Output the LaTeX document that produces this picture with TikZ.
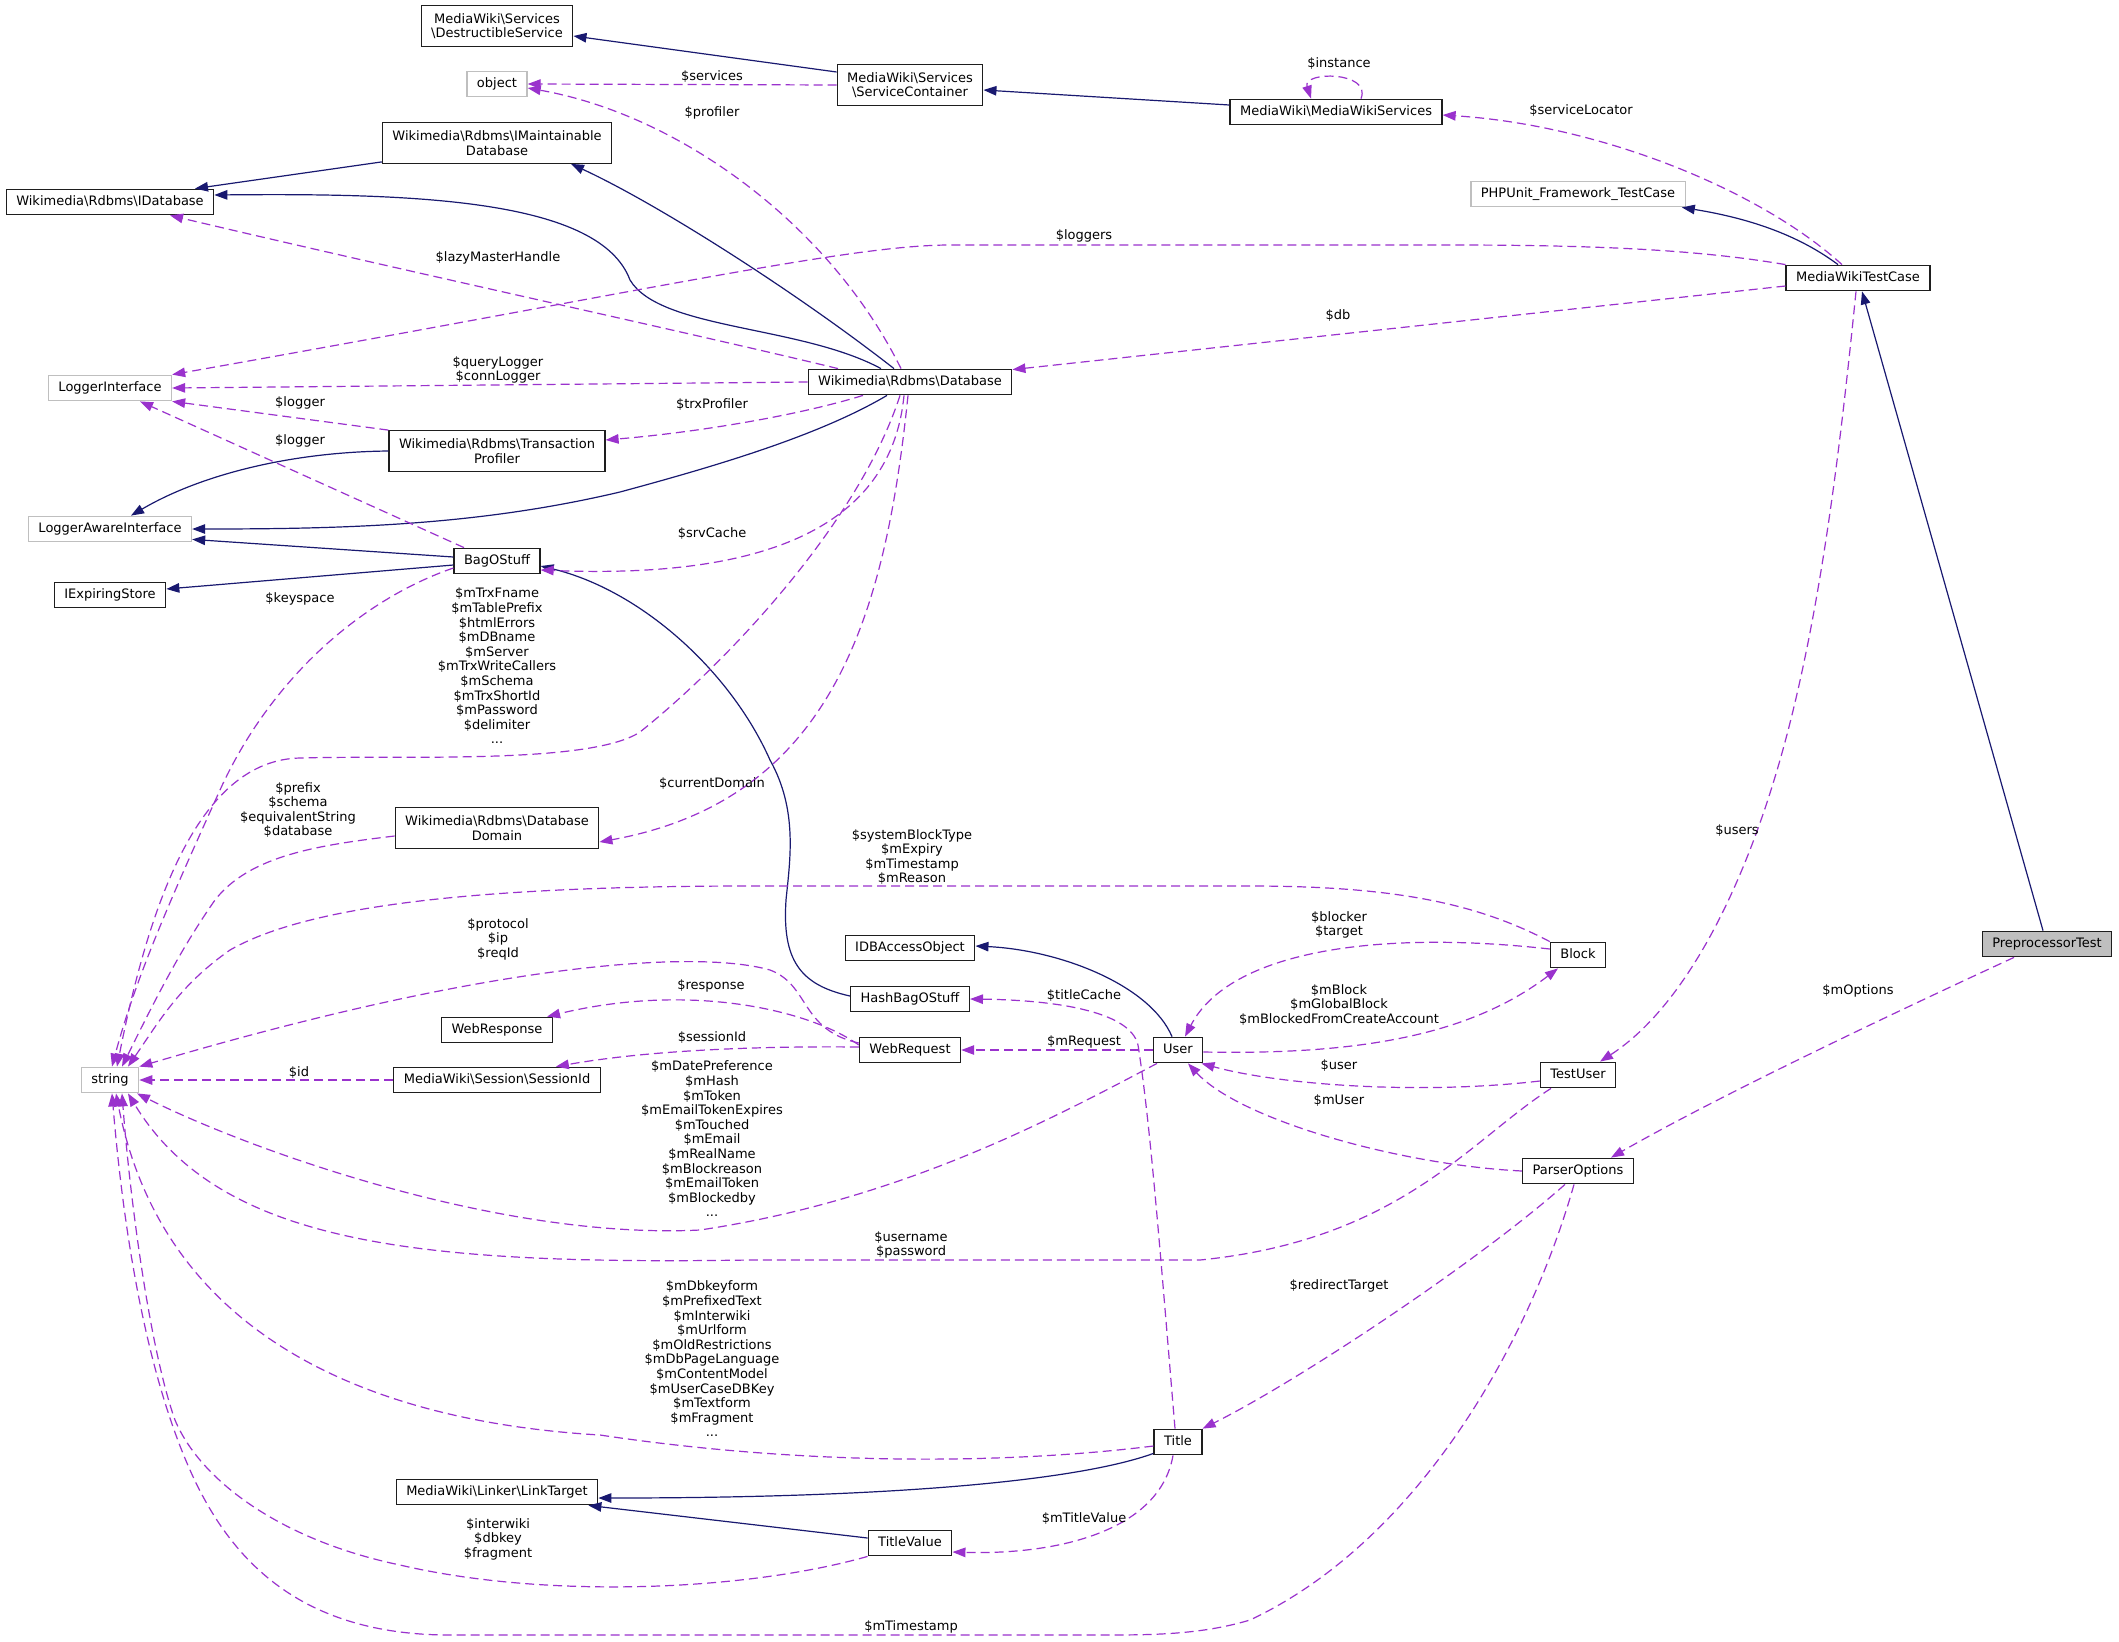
\documentclass[tikz,border=0pt]{standalone}
\usepackage{fontspec}
\setmainfont{DejaVu Sans}
\definecolor{dgInh}{RGB}{25, 25, 112}
\definecolor{dgUse}{RGB}{154, 50, 205}
\definecolor{dgBox}{RGB}{30, 30, 30}
\definecolor{dgExt}{RGB}{191, 191, 191}
\definecolor{dgFocus}{RGB}{191, 191, 191}
\usepackage{tikz}
\usetikzlibrary{arrows.meta}
\newcommand{\dgfont}{\fontsize{13}{14.6}\selectfont}
\newcommand{\bsl}{\textbackslash}
\tikzset{
  basebox/.style={draw=dgBox, line width=1.3pt, fill=white, inner xsep=10pt, inner ysep=0pt, font=\dgfont},
  classbox/.style={basebox, minimum height=25.5pt, text height=9.6pt, text depth=3pt},
  classbox2/.style={basebox, align=center, minimum height=40.5pt},
  extbox/.style={classbox, draw=dgExt},
  edgelbl/.style={font=\dgfont, align=center, inner sep=0pt},
  inhedge/.style={draw=dgInh, line width=1.2pt, -{Triangle[length=13pt, width=9.5pt]}},
  useedge/.style={draw=dgUse, line width=1.2pt, dash pattern=on 9pt off 5pt, -{Triangle[length=13pt, width=9.5pt]}}
}
\begin{document}
\begin{tikzpicture}[x=1pt, y=-1pt]
  \fill[white] (0,0) rectangle (2119,1641);
  \useasboundingbox (0,0) rectangle (2119,1641);

  % classes
  \node[classbox2] (dsvc) at (497,26) {MediaWiki\bsl Services\\\bsl DestructibleService};
  \node[extbox] (obj) at (497,84) {object};
  \node[classbox2] (imaint) at (497,143) {Wikimedia\bsl Rdbms\bsl IMaintainable\\Database};
  \node[classbox] (idb) at (110,202) {Wikimedia\bsl Rdbms\bsl IDatabase};
  \node[classbox2] (svc) at (910,85) {MediaWiki\bsl Services\\\bsl ServiceContainer};
  \node[classbox] (mws) at (1336,112) {MediaWiki\bsl MediaWikiServices};
  \node[extbox] (phpunit) at (1578,194) {PHPUnit\_Framework\_TestCase};
  \node[classbox] (mwtc) at (1858,278) {MediaWikiTestCase};
  \node[extbox] (logif) at (110,388) {LoggerInterface};
  \node[classbox] (dbase) at (910,382) {Wikimedia\bsl Rdbms\bsl Database};
  \node[classbox2] (trxprof) at (497,451) {Wikimedia\bsl Rdbms\bsl Transaction\\Profiler};
  \node[extbox] (logaware) at (110,529) {LoggerAwareInterface};
  \node[classbox] (bag) at (497,561) {BagOStuff};
  \node[classbox] (iexp) at (110,595) {IExpiringStore};
  \node[classbox2] (dbdom) at (497,828) {Wikimedia\bsl Rdbms\bsl Database\\Domain};
  \node[classbox] (webresp) at (497,1030) {WebResponse};
  \node[classbox] (sessid) at (497,1080) {MediaWiki\bsl Session\bsl SessionId};
  \node[extbox] (str) at (110,1080) {string};
  \node[classbox] (idbao) at (910,948) {IDBAccessObject};
  \node[classbox] (hashbag) at (910,999) {HashBagOStuff};
  \node[classbox] (webreq) at (910,1050) {WebRequest};
  \node[classbox] (user) at (1178,1050) {User};
  \node[classbox] (block) at (1578,955) {Block};
  \node[classbox, fill=dgFocus] (pptest) at (2047,944) {PreprocessorTest};
  \node[classbox] (testuser) at (1578,1075) {TestUser};
  \node[classbox] (popts) at (1578,1171) {ParserOptions};
  \node[classbox] (title) at (1178,1442) {Title};
  \node[classbox] (titleval) at (910,1543) {TitleValue};
  \node[classbox] (linktgt) at (497,1492) {MediaWiki\bsl Linker\bsl LinkTarget};

  % inheritance
  \draw[inhedge] ([yshift=13pt]svc.west) -- ([yshift=-10pt]dsvc.east);
  \draw[inhedge] ([yshift=7pt]mws.west) -- ([yshift=-5pt]svc.east);
  \draw[inhedge] ([xshift=-20pt]mwtc.north) .. controls (1805,240) and (1760,220) .. ([xshift=-4pt]phpunit.south east);
  \draw[inhedge] ([xshift=-4pt]pptest.north) -- ([xshift=4pt]mwtc.south);
  \draw[inhedge] ([xshift=-16pt]dbase.north) .. controls (800,295) and (660,205) .. ([xshift=74pt]imaint.south);
  \draw[inhedge] ([xshift=-29pt]dbase.north) .. controls (800,325) and (660,330) .. (630,280) .. controls (600,200) and (420,193) .. ([yshift=7pt]idb.east);
  \draw[inhedge] ([yshift=2pt]imaint.south west) -- ([xshift=85pt]idb.north);
  \draw[inhedge] ([xshift=-23pt]dbase.south) .. controls (820,435) and (720,465) .. (620,492) .. controls (480,525) and (350,529) .. (logaware.east);
  \draw[inhedge] (trxprof.west) .. controls (290,452) and (200,475) .. ([xshift=21pt]logaware.north);
  \draw[inhedge] ([yshift=4pt]bag.west) -- ([yshift=3pt]logaware.south east);
  \draw[inhedge] ([yshift=-4pt]bag.west) -- ([yshift=6pt]iexp.east);
  \draw[inhedge] ([yshift=3pt]hashbag.west) .. controls (800,985) and (782,960) .. (786,900) .. controls (790,860) and (798,810) .. (770,760) .. controls (730,670) and (640,590) .. ([yshift=-5pt]bag.east);
  \draw[inhedge] ([xshift=-6pt]user.north) .. controls (1150,985) and (1060,950) .. ([yshift=2pt]idbao.east);
  \draw[inhedge] ([yshift=2pt]title.south west) .. controls (1080,1480) and (900,1498) .. ([yshift=-6pt]linktgt.east);
  \draw[inhedge] ([yshift=5pt]titleval.west) -- ([xshift=-10pt]linktgt.south east);

  % members
  \draw[useedge] (svc.west) -- (obj.east);
  \draw[useedge] ([xshift=-9pt]dbase.north) .. controls (830,225) and (680,115) .. ([yshift=-4pt]obj.east);
  \draw[useedge] ([xshift=25pt]mws.north) .. controls (1372,71) and (1302,71) .. ([xshift=-25pt]mws.north);
  \draw[useedge] ([xshift=-16pt]mwtc.north) .. controls (1760,190) and (1600,125) .. ([yshift=-3pt]mws.east);
  \draw[useedge] (mwtc.north west) .. controls (1700,250) and (1600,245) .. (1450,245) -- (950,245) .. controls (850,245) and (650,290) .. (logif.north east);
  \draw[useedge] ([yshift=-8pt]mwtc.west) -- ([yshift=-1pt]dbase.north east);
  \draw[useedge] ([xshift=-72pt]dbase.north) .. controls (700,335) and (400,270) .. ([xshift=60pt]idb.south);
  \draw[useedge] (dbase.west) -- (logif.east);
  \draw[useedge] ([xshift=-47pt]dbase.south) .. controls (800,415) and (700,432) .. ([yshift=11pt]trxprof.east);
  \draw[useedge] (trxprof.north west) -- (logif.south east);
  \draw[useedge] ([xshift=-33pt]bag.north) -- ([xshift=30pt]logif.south);
  \draw[useedge] ([xshift=-6pt]dbase.south) .. controls (890,540) and (740,578) .. ([yshift=-9pt]bag.east);
  \draw[useedge] ([yshift=-7pt]bag.west) .. controls (360,600) and (270,680) .. (220,790) .. controls (170,900) and (135,980) .. ([xshift=2pt]str.north);
  \draw[useedge] ([xshift=-10pt]dbase.south) .. controls (860,520) and (730,660) .. (640,732) .. controls (590,765) and (400,755) .. (300,758) .. controls (200,760) and (150,900) .. ([xshift=7pt]str.north);
  \draw[useedge] ([xshift=-2pt]dbase.south) .. controls (885,620) and (830,800) .. ([yshift=-14pt]dbdom.east);
  \draw[useedge] ([yshift=-8pt]dbdom.west) .. controls (320,845) and (250,855) .. (215,900) .. controls (180,950) and (155,1000) .. ([xshift=12pt]str.north);
  \draw[useedge] (block.north west) .. controls (1480,905) and (1400,886) .. (1250,886) -- (750,886) .. controls (450,886) and (300,910) .. (230,950) .. controls (180,985) and (160,1020) .. ([xshift=18pt]str.north);
  \draw[useedge] ([yshift=7pt]webreq.west) .. controls (800,1030) and (810,985) .. (770,970) .. controls (700,950) and (500,960) .. (str.north east);
  \draw[useedge] ([yshift=5pt]webreq.west) .. controls (810,1010) and (690,982) .. ([xshift=-6pt]webresp.north east);
  \draw[useedge] ([yshift=3pt]webreq.west) .. controls (760,1046) and (650,1050) .. ([xshift=-45pt]sessid.north east);
  \draw[useedge] (sessid.west) -- (str.east);
  \draw[useedge] (user.west) -- (webreq.east);
  \draw[useedge] ([xshift=-3pt]title.north) .. controls (1160,1250) and (1150,1120) .. (1138,1045) .. controls (1130,1010) and (1050,1000) .. (hashbag.east);
  \draw[useedge] ([yshift=6pt]block.west) .. controls (1380,930) and (1230,950) .. ([xshift=7pt]user.north);
  \draw[useedge] ([yshift=-2pt]user.east) .. controls (1360,1055) and (1470,1035) .. ([xshift=-20pt]block.south);
  \draw[useedge] ([yshift=-6pt]testuser.west) .. controls (1420,1095) and (1280,1085) .. ([xshift=-2pt]user.south east);
  \draw[useedge] (popts.west) .. controls (1400,1165) and (1240,1120) .. ([xshift=10pt]user.south);
  \draw[useedge] ([xshift=-2pt]mwtc.south) .. controls (1840,450) and (1820,620) .. (1780,760) .. controls (1740,900) and (1680,1010) .. ([xshift=22pt]testuser.north);
  \draw[useedge] ([xshift=-33pt]pptest.south) .. controls (1900,1010) and (1720,1095) .. ([xshift=33pt]popts.north);
  \draw[useedge] ([xshift=-21pt]user.south) .. controls (1050,1120) and (900,1200) .. (700,1230) .. controls (500,1240) and (250,1150) .. ([xshift=27pt]str.south);
  \draw[useedge] ([xshift=-27pt]testuser.south) .. controls (1470,1140) and (1400,1240) .. (1200,1260) -- (750,1260) .. controls (420,1265) and (220,1245) .. ([xshift=18pt]str.south);
  \draw[useedge] ([yshift=-4pt]title.west) .. controls (1000,1465) and (800,1465) .. (600,1435) .. controls (430,1425) and (170,1370) .. ([xshift=6pt]str.south);
  \draw[useedge] ([xshift=-5pt]title.south) .. controls (1160,1530) and (1060,1555) .. ([yshift=-9pt]titleval.east);
  \draw[useedge] ([xshift=-13pt]popts.south) .. controls (1480,1260) and (1300,1380) .. (title.north east);
  \draw[useedge] (titleval.south west) .. controls (750,1590) and (550,1600) .. (400,1565) .. controls (280,1540) and (200,1480) .. (175,1420) .. controls (150,1350) and (130,1200) .. ([xshift=12pt]str.south);
  \draw[useedge] ([xshift=-4pt]popts.south) .. controls (1530,1340) and (1420,1540) .. (1250,1620) .. controls (1200,1635) and (1150,1635) .. (1100,1635) -- (450,1635) .. controls (300,1635) and (230,1560) .. (190,1470) .. controls (150,1380) and (125,1250) .. ([xshift=2pt]str.south);

  % member labels
  \node[edgelbl] (lservices) at (712,77) {\$services};
  \node[edgelbl] (lprofiler) at (712,113) {\$profiler};
  \node[edgelbl] (linstance) at (1339,64) {\$instance};
  \node[edgelbl] (lservloc) at (1581,111) {\$serviceLocator};
  \node[edgelbl] (lloggers) at (1084,236) {\$loggers};
  \node[edgelbl] (ldb) at (1338,316) {\$db};
  \node[edgelbl] (llazy) at (498,258) {\$lazyMasterHandle};
  \node[edgelbl] (lquery) at (498,370) {\$queryLogger\\\$connLogger};
  \node[edgelbl] (llogger) at (300,403) {\$logger};
  \node[edgelbl] (lbaglogger) at (300,441) {\$logger};
  \node[edgelbl] (ltrxprof) at (712,405) {\$trxProfiler};
  \node[edgelbl] (lsrvcache) at (712,534) {\$srvCache};
  \node[edgelbl] (lkeyspace) at (300,599) {\$keyspace};
  \node[edgelbl] (lmtrx) at (497,666) {\$mTrxFname\\\$mTablePrefix\\\$htmlErrors\\\$mDBname\\\$mServer\\\$mTrxWriteCallers\\\$mSchema\\\$mTrxShortId\\\$mPassword\\\$delimiter\\...};
  \node[edgelbl] (lcurdom) at (712,784) {\$currentDomain};
  \node[edgelbl] (lprefix) at (298,810) {\$prefix\\\$schema\\\$equivalentString\\\$database};
  \node[edgelbl] (lsysblock) at (912,857) {\$systemBlockType\\\$mExpiry\\\$mTimestamp\\\$mReason};
  \node[edgelbl] (lprotocol) at (498,939) {\$protocol\\\$ip\\\$reqId};
  \node[edgelbl] (lresponse) at (711,986) {\$response};
  \node[edgelbl] (lsessid) at (712,1038) {\$sessionId};
  \node[edgelbl] (lid) at (299,1073) {\$id};
  \node[edgelbl] (ldatepref) at (712,1139) {\$mDatePreference\\\$mHash\\\$mToken\\\$mEmailTokenExpires\\\$mTouched\\\$mEmail\\\$mRealName\\\$mBlockreason\\\$mEmailToken\\\$mBlockedby\\...};
  \node[edgelbl] (ltitlecache) at (1084,996) {\$titleCache};
  \node[edgelbl] (lmrequest) at (1084,1042) {\$mRequest};
  \node[edgelbl] (lblocker) at (1339,925) {\$blocker\\\$target};
  \node[edgelbl] (lmblock) at (1339,1005) {\$mBlock\\\$mGlobalBlock\\\$mBlockedFromCreateAccount};
  \node[edgelbl] (luser) at (1339,1066) {\$user};
  \node[edgelbl] (lmuser) at (1339,1100) {\$mUser};
  \node[edgelbl] (lusers) at (1737,831) {\$users};
  \node[edgelbl] (lmoptions) at (1858,991) {\$mOptions};
  \node[edgelbl] (lusername) at (911,1245) {\$username\\\$password};
  \node[edgelbl] (ldbkey) at (712,1359) {\$mDbkeyform\\\$mPrefixedText\\\$mInterwiki\\\$mUrlform\\\$mOldRestrictions\\\$mDbPageLanguage\\\$mContentModel\\\$mUserCaseDBKey\\\$mTextform\\\$mFragment\\...};
  \node[edgelbl] (lredirect) at (1339,1286) {\$redirectTarget};
  \node[edgelbl] (lmtitleval) at (1084,1518) {\$mTitleValue};
  \node[edgelbl] (linterwiki) at (498,1539) {\$interwiki\\\$dbkey\\\$fragment};
  \node[edgelbl] (lmtimestamp) at (911,1627) {\$mTimestamp};
\end{tikzpicture}
\end{document}
